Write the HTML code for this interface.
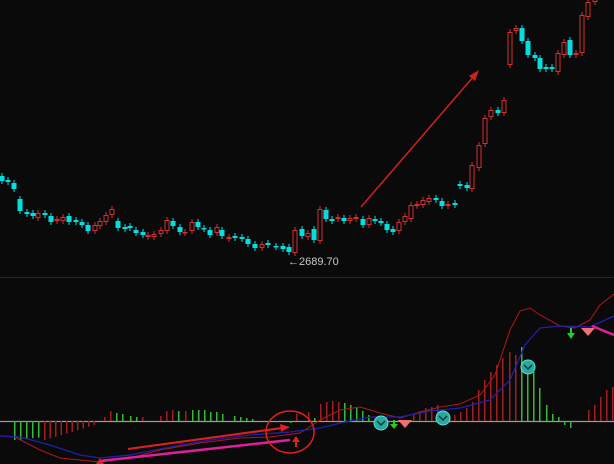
<!DOCTYPE html>
<html><head><meta charset="utf-8"><style>
html,body{margin:0;padding:0;background:#0a0a0a;width:614px;height:464px;overflow:hidden}
svg{display:block}
</style></head><body>
<svg id="s" width="614" height="464" xmlns="http://www.w3.org/2000/svg">
<rect width="614" height="464" fill="#0a0a0a"/>
<line x1="0" y1="277.5" x2="614" y2="277.5" stroke="#5a1010" stroke-width="1"/>
<line x1="0" y1="421.5" x2="614" y2="421.5" stroke="#9a9a9a" stroke-width="1.2"/>
<g id="c"></g>
<g id="h"></g>
<line x1="361" y1="207" x2="474" y2="76" stroke="#d02020" stroke-width="1.5"/>
<polygon points="479,70 469,76 475,81" fill="#d02020"/>
<text x="288" y="265" fill="#c8c8c8" font-family="Liberation Sans, sans-serif" font-size="11">←2689.70</text>
<polyline fill="none" stroke="#b01818" stroke-width="1" points="0,436 15,437 40,450 60,458 80,460 100,462 130,458 160,450 200,443 240,438 270,437 300,433 320,420 340,410 360,407 380,413 400,418 420,412 440,407 460,404 480,395 495,375 510,330 520,311 530,308 540,315 560,326 575,328 590,320 600,305 614,294"/>
<polyline fill="none" stroke="#2020b0" stroke-width="1.3" points="0,436 20,437 50,445 80,455 100,458 130,455 170,447 210,440 250,435 290,432 320,428 345,422 370,417 400,417 430,411 460,408 490,400 510,380 525,345 540,328 560,326 590,327 614,316"/>
<polyline fill="none" stroke="#e0209a" stroke-width="2.5" points="100,461 200,450 290,440"/>
<polyline fill="none" stroke="#e0209a" stroke-width="2.5" points="592,326 614,335"/>
<line x1="128" y1="449" x2="282" y2="428" stroke="#e02020" stroke-width="2"/>
<polygon points="290,427 280,424 281,432" fill="#e02020"/>
<ellipse cx="290" cy="432" rx="24" ry="21" fill="none" stroke="#e02020" stroke-width="1.5"/>
<line x1="296" y1="447" x2="296" y2="440" stroke="#e02020" stroke-width="2"/>
<polygon points="296,436 292,442 300,442" fill="#e02020"/>
<polygon points="100,458 96,464 104,464" fill="#e02020"/>
<g fill="#2aa8a0" stroke="#5fe0d8"><circle cx="381" cy="423" r="7"/><circle cx="443" cy="418" r="7"/><circle cx="528" cy="367" r="7"/></g>
<g stroke="#0a3a38" stroke-width="1.5" fill="none"><polyline points="377,421 381,425 385,421"/><polyline points="439,416 443,420 447,416"/><polyline points="524,365 528,369 532,365"/></g>
<g fill="#f07070"><polygon points="398,420 412,420 405,428"/><polygon points="581,328 595,328 588,336"/></g>
<g fill="#20d020"><rect x="393" y="420" width="2" height="5"/><polygon points="390,424 398,424 394,429"/><rect x="570" y="328" width="2" height="6"/><polygon points="567,333 575,333 571,339"/></g>
</svg>
<script>
var C=[[2,'c',176,181],[8,'c',180,182],[14,'c',183,189],[20,'c',199,211],[27,'c',212,214],[33,'c',213,216],[38,'r',213,218],[45,'c',213,215],[51,'c',216,222],[57,'r',219,221],[63,'r',217,221],[69,'c',216,222],[76,'c',220,222],[82,'c',222,225],[88,'c',225,231],[95,'r',225,231],[100,'r',221,226],[106,'r',215,222],[112,'r',209,215],[118,'c',221,228],[125,'c',227,229],[130,'c',226,228],[136,'c',230,233],[143,'c',232,235],[148,'r',235,237],[154,'r',234,237],[161,'r',230,234],[167,'r',220,231],[173,'c',221,226],[180,'c',227,232],[185,'r',232,233],[192,'r',222,231],[198,'c',222,227],[204,'c',228,229],[210,'c',230,235],[217,'r',227,233],[222,'c',230,236],[229,'r',237,239],[235,'c',236,238],[242,'c',237,239],[248,'c',239,244],[255,'c',244,248],[262,'r',244,248],[268,'c',243,245],[276,'c',246,247],[283,'c',246,249],[289,'c',247,252],[295,'r',230,253],[302,'c',229,236],[308,'r',233,237],[314,'c',229,240],[320,'r',209,241],[326,'c',210,219],[332,'c',219,221],[338,'r',217,219],[344,'c',218,221],[350,'r',218,221],[356,'r',217,219],[363,'c',219,225],[369,'r',218,225],[375,'c',219,221],[381,'c',221,223],[387,'c',224,230],[393,'c',229,232],[399,'r',222,231],[405,'r',216,222],[411,'r',205,219],[417,'r',204,206],[423,'r',200,205],[429,'r',198,202],[436,'c',198,200],[442,'c',201,206],[448,'r',204,206],[455,'c',203,205],[460,'c',184,186],[467,'c',185,188],[472,'r',165,189],[479,'r',145,168],[485,'r',118,144],[491,'r',110,117],[498,'c',110,113],[504,'r',100,113],[510,'r',32,65],[516,'r',28,31],[522,'c',28,41],[528,'c',41,55],[535,'c',55,58],[540,'c',58,69],[546,'c',67,69],[552,'c',67,69],[558,'r',53,72],[564,'r',42,55],[570,'c',40,55],[576,'r',53,55],[582,'r',15,53],[588,'r',2,17],[595,'r',-1,2]];
var s='';
C.forEach(function(d){var x=d[0],t=d[2],b=d[3],h=b-t;var col=d[1]=='c'?'#00e0e0':'#d03030';
s+='<line x1="'+(x)+'" y1="'+(t-3)+'" x2="'+x+'" y2="'+(b+3)+'" stroke="'+col+'" stroke-width="1"/>';
if(d[1]=='c')s+='<rect x="'+(x-2.5)+'" y="'+t+'" width="5" height="'+Math.max(h,1.5)+'" fill="'+col+'"/>';
else s+='<rect x="'+(x-2)+'" y="'+(t+0.5)+'" width="4" height="'+Math.max(h-1,0.5)+'" fill="#0a0a0a" stroke="'+col+'" stroke-width="1"/>';});
document.getElementById('c').innerHTML=s;
var H=[];var Z=421;
function add(x,y,c){H.push([x,y,c]);}
for(var x=14;x<=38;x+=6)add(x,440-(x-14)*0.1,'g');
for(var x=44;x<=94;x+=5.5)add(x,440-(x-44)*0.3,'r');
var sm=[[104,417,'r'],[110,411,'r'],[116,413,'g'],[122,414,'g'],[130,416,'g'],[136,417,'g'],[142,417,'r'],[160,416,'r'],[166,411,'r'],[172,410,'r'],[178,411,'g'],[185,411,'r'],[192,410,'g'],[198,410,'g'],[204,410,'g'],[210,412,'g'],[216,412,'g'],[222,414,'g'],[234,416,'g'],[240,417,'g'],[246,418,'g'],[252,419,'g'],[290,423,'g'],[296,414,'r'],[308,412,'r'],[314,418,'g']];
sm.forEach(function(d){add(d[0],d[1],d[2]);});
[[320,404],[326,402],[332,401],[338,402]].forEach(function(d){add(d[0],d[1],'r');});
[[344,403],[350,405],[356,408],[362,411],[368,415]].forEach(function(d){add(d[0],d[1],'g');});
[[413,414],[419,411],[425,408],[431,407],[437,405],[449,416]].forEach(function(d){add(d[0],d[1],'r');});
[[454,415],[460,412],[466,408],[472,402],[478,390],[484,380],[490,372],[496,365],[502,358],[509,352],[515,355]].forEach(function(d){add(d[0],d[1],'r');});
[[521,347],[527,360],[533,372],[539,388],[546,405],[552,414],[558,417],[564,425],[570,428]].forEach(function(d){add(d[0],d[1],'g');});
[[588,410],[594,405],[600,397],[606,390],[612,387]].forEach(function(d){add(d[0],d[1],'r');});
var hs='';H.forEach(function(d){var y1=Math.min(d[1],Z),y2=Math.max(d[1],Z);hs+='<rect x="'+d[0]+'" y="'+y1+'" width="1.5" height="'+(y2-y1)+'" fill="'+(d[2]=='g'?'#38b838':'#a02020')+'"/>';});
document.getElementById('h').innerHTML=hs;
</script>
</body></html>
